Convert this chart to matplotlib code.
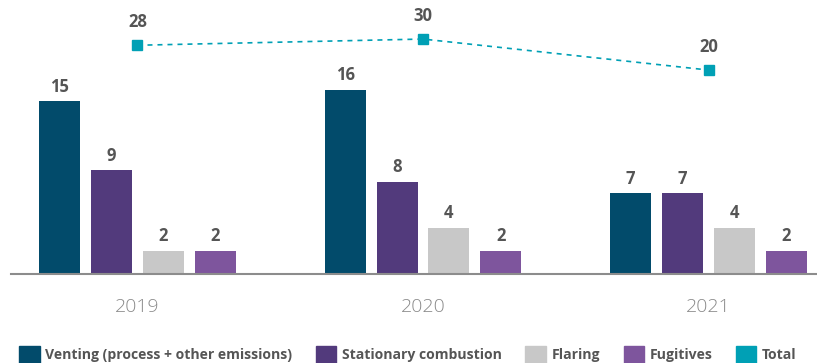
import numpy as np
import matplotlib.pyplot as plt
from matplotlib.patches import Patch

years = ["2019", "2020", "2021"]
series = ["Venting (process + other emissions)", "Stationary combustion", "Flaring", "Fugitives"]
venting = [15, 16, 7]
stationary = [9, 8, 7]
flaring = [2, 4, 4]
fugitives = [2, 2, 2]
total = [28, 30, 20]

colors = ["#024b6b", "#523a7c", "#c8c8c8", "#7e559d"]
total_color = "#00a0b5"
label_color = "#555555"

plt.rcParams['font.family'] = ['Open Sans', 'DejaVu Sans']

fig = plt.figure(figsize=(8.17, 3.63), dpi=100)
ax = fig.add_axes([11 / 817, 1 - 274 / 363, 806 / 817, 274 / 363])

x = np.arange(len(years))
width = 0.1436
step = 0.182
for i, (vals, c) in enumerate(zip([venting, stationary, flaring, fugitives], colors)):
    pos = x + (i - 1.5) * step
    ax.bar(pos, vals, width=width, color=c)
    for p, v in zip(pos, vals):
        ax.annotate(str(v), (p, v), xytext=(0, 4), textcoords="offset points",
                    ha="center", va="bottom", fontsize=12, fontweight="bold",
                    color=label_color)

ax.set_xlim(-0.443, 2.38)
ax.set_ylim(0, 23.8)
ax.set_yticks([])
ax.set_xticks(x)
ax.set_xticklabels(years, fontsize=14, color="#8a8a8a", fontweight="light")
ax.tick_params(axis="x", length=0, pad=17)
for s in ["top", "right", "left"]:
    ax.spines[s].set_visible(False)
ax.spines["bottom"].set_color("#8c8c8c")
ax.spines["bottom"].set_linewidth(1.5)

# total emissions on its own scale above the bars
ax2 = ax.twinx()
ax2.plot(x, total, color=total_color, linestyle=(0, (3, 3)), linewidth=1.2,
         marker="s", markersize=6.5)
for xi, v in zip(x, total):
    ax2.annotate(str(v), (xi, v), xytext=(0, 10), textcoords="offset points",
                 ha="center", va="bottom", fontsize=12, fontweight="bold",
                 color=label_color)
ax2.set_ylim(-45.8, 42.6)
ax2.set_yticks([])
ax2.set_xlim(-0.443, 2.38)
for s in ax2.spines.values():
    s.set_visible(False)

handles = [Patch(color=c) for c in colors] + [Patch(color=total_color)]
labels = series + ["Total"]
leg = fig.legend(handles, labels, loc="lower left", bbox_to_anchor=(0.008, -0.035),
                 ncol=5, frameon=False, handlelength=1.45, handleheight=1.45,
                 handletextpad=0.4, columnspacing=1.69,
                 prop={"size": 10.1, "weight": "bold"})
for t in leg.get_texts():
    t.set_color(label_color)

fig.savefig("out.png", dpi=100)
